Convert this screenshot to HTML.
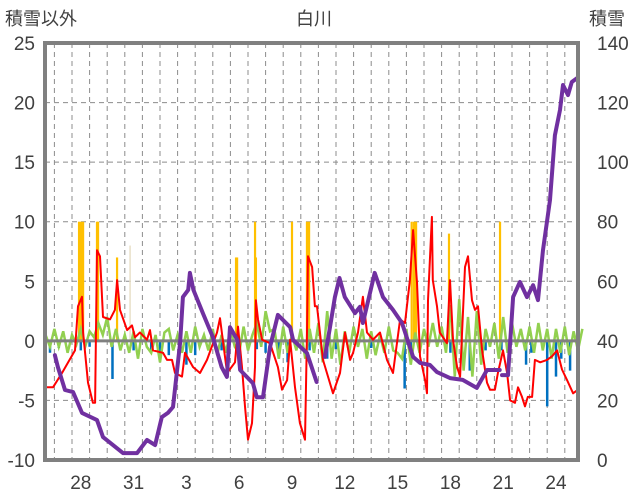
<!DOCTYPE html>
<html><head><meta charset="utf-8"><style>
html,body{margin:0;padding:0;background:#fff;}
svg{display:block;font-family:"Liberation Sans","Noto Sans CJK JP",sans-serif;}
</style></head><body>
<svg id="chart" width="636" height="501" viewBox="0 0 636 501" xmlns="http://www.w3.org/2000/svg">
<text x="314" y="25" font-size="18" fill="#404040" text-anchor="middle">白川</text>
<text x="5" y="25" font-size="18" fill="#404040">積雪以外</text>
<text x="589" y="25" font-size="18" fill="#404040">積雪</text>
<g id="grid"></g>
<g id="bars"></g>
<g id="lines"></g>
<g id="axes"></g>
</svg>
<script>
// ---- data ----
const leftTicks = [25,20,15,10,5,0,-5,-10];
const rightTicks = [140,120,100,80,60,40,20,0];
const xTickDays = [0,3,6,9,12,15,18,21,24,27];
const xTickLabels = ["28","31","3","6","9","12","15","18","21","24"];
const snowDays = [-0.97,-0.8,-0.4,0.06,0.57,1.42,1.76,2.9,3.7,4.26,4.72,5.1,5.45,5.74,6.14,6.3,6.6,6.7,6.9,7.44,8.0,8.5,8.8,8.98,9.4,9.55,10.28,10.5,10.85,11.25,11.7,12.4,12.56,13.35,13.9,null,14.37,14.66,14.94,15.2,15.5,16.08,16.36,16.53,17.2,17.67,18.24,18.75,19.38,19.77,20.34,20.74,21.48,22.2,23.0,23.58,24.3,null,24.43,24.77,25.06,25.45,25.85,26.2,26.48,26.76,27.16,27.44,27.73,27.9,28.18,28.4,28.7];
const snowVals = [35.2,31.2,23.5,22.8,15.8,13.4,7.7,2.3,2.3,6.7,5.0,14.4,15.8,17.8,39.3,54.7,57.1,62.8,57.1,49.3,41.3,31.2,27.9,44.6,40.3,30.2,25.8,21.1,21.1,37.9,48.7,44.6,40.3,35.9,26.2,null,34.6,44.6,54.7,61.1,54.7,49.3,51.4,46.0,62.8,54.7,50.4,46.0,34.6,32.6,31.9,29.5,27.5,26.9,24.2,30.2,30.2,null,28.5,28.5,54.7,59.8,54.7,58.7,53.7,70.5,87.3,109,117.5,125.9,122.5,126.9,128.2];
const redDays = [-1.53,-1.08,-0.57,0.17,0.34,0.57,0.63,0.91,1.19,1.31,1.42,1.59,1.76,2.16,2.44,2.56,2.73,3.13,3.41,3.58,3.86,4.26,4.43,4.6,5.17,5.4,5.68,5.85,6.25,6.42,6.88,7.27,7.67,8.24,8.41,8.81,9.26,9.43,9.66,9.83,10.0,10.23,10.4,10.45,10.57,10.8,11.25,11.7,11.93,12.22,12.39,12.67,12.95,13.24,13.35,13.41,13.64,13.8,13.92,14.26,14.83,15.23,15.51,15.8,15.97,16.25,16.53,16.76,17.1,17.5,17.9,18.24,18.64,18.92,19.2,19.38,19.6,19.77,20.06,20.17,20.23,20.45,20.5,20.74,20.9,21.3,21.48,21.65,21.88,22.05,22.33,22.5,22.73,22.9,23.07,23.3,23.58,23.75,24.03,24.2,24.49,24.72,24.89,25.17,25.34,25.57,25.74,25.9,26.14,26.3,26.6,26.99,27.27,27.56,27.84,28.13,28.47,28.75];
const redVals = [-3.9,-3.9,-2.7,-0.8,2.9,3.7,0.7,-3.5,-5.2,-5.2,7.6,7.1,2.0,1.8,2.6,5.1,2.6,0.9,1.3,0.3,0.7,0.1,0.9,-0.8,-1.0,-1.6,-1.6,-2.7,-3.0,-1.0,-2.2,-2.7,-1.6,0.7,1.9,-2.7,-1.8,1.2,-2.2,-5.5,-8.3,-6.9,-2.2,3.4,1.8,0.1,-0.2,-2.2,-4.1,-3.3,0.1,-3.9,-6.9,-8.3,0.7,7.1,6.2,2.9,2.9,-1.6,-4.4,-2.7,0.7,-1.6,-1.0,0.7,3.7,0.7,0.1,0.7,-1.6,-2.7,1.8,1.5,5.1,9.3,4.9,-1.3,-3.3,-4.4,3.4,10.4,5.1,2.9,0.7,-0.2,5.1,0.1,-2.2,-3.0,6.2,7.1,3.4,2.6,2.9,-0.8,-3.5,-4.1,-4.1,-2.7,-0.8,-2.7,-5.0,-5.2,-3.9,-4.7,-5.5,-4.7,-4.7,-1.6,-1.8,-1.6,-1.3,-0.8,-2.4,-3.3,-4.4,-4.1];
const greenStart = -1.5;
const greenVals = [0.5,-0.5,1,-0.5, 0.8,-1,0.5,-0.3, 1,-0.5,0.8,0.3, 1.5,0.5,2,-0.5, 1,-0.8,0.5,-1, 0.8,-1.5,1,-0.5, -1,0.5,-1.8,0.7, 1,-0.8,0.5,-1, 0.8,-1,1.2,-0.5, 0.5,-0.8,1,-1.2, 0.5,-1,1,-0.5, -1,1.2,-0.8,0.5, 1.5,-0.5,2.5,0.8, 1,-1.5,1.2,-1, 0.5,-0.8,1,-1.5, 1,-1,1.5,-1.8, 2.5,-1.5,1,-2, 0.8,-1,1.2,-0.5, 1,-1.5,0.8,-1.2, 0.5,-1,1.2,-0.8, -1,-1.5,1,-2, 0.7,-1,1,-0.5, 1.5,-0.5,1.2,-1, 3,-3,3.5,-2.5, 2,-3,2.5,-2, 1,-0.5,1.5,-1.5, 2,-1,1.5,-0.5, 1,-0.8,1.2,-1, 1.5,-0.8,1,-1.5, 1,-1,1.2,-1.2, 0.8,-0.8,1];
const yellowDays = [0.4,0.51,0.63,1.42,1.48,2.56,9.32,9.38,10.4,10.45,12.5,13.35,13.47,19.3,19.43,19.55,21.42,24.32];
const yellowVals = [10,10,10,10,10,7,7,7,10,7,10,10,10,10,10,10,9,10];
const paleDays = [3.3];
const paleVals = [8];
const blueDays = [-1.25,-0.75,0.5,1.0,2.3,3.5,4.5,5.0,5.5,6.5,7.0,8.5,9.5,10.5,11.0,11.75,12.25,13.5,14.5,15.0,17.0,18.9,19.25,21.5,22.6,23.5,24.4,25.8,26.1,27.0,27.5,27.8,28.3];
const blueVals = [-1,-0.6,-0.8,-0.5,-3.2,-0.8,-0.8,-1.5,-1.2,-2,-1.2,-0.8,-0.6,-0.7,-1,-1.5,-1.8,-0.8,-1.5,-0.7,-0.6,-4,-1.5,-1,-2.5,-0.8,-0.8,-2,-1,-5.5,-3,-1.5,-2.5];

// ---- scales ----
const L=45,R=578,T=43,B=460;
const D0=72, PXD=17.6;
const xs = d => D0 + d*PXD;
const yl = v => B - (v+10)*(B-T)/35;
const yr = v => B - v*(B-T)/140;
const NS='http://www.w3.org/2000/svg';
function mk(tag, parent){const e=document.createElementNS(NS,tag);parent.appendChild(e);return e;}
const grid=document.getElementById('grid'), bars=document.getElementById('bars'), lines=document.getElementById('lines'), axes=document.getElementById('axes');

// grid
for(let d=-1; xs(d)<R; d++){
  const l=mk('line',grid);
  
  
  l.setAttribute('x1',xs(d));l.setAttribute('x2',xs(d));l.setAttribute('y1',T);l.setAttribute('y2',B);
  l.setAttribute('stroke','#8c8c8c');l.setAttribute('stroke-width','1');l.setAttribute('stroke-dasharray','5,4');
}
leftTicks.forEach(v=>{
  if(v!==25 && v!==-10 && v!==0){
    const l=mk('line',grid);
    
    
    l.setAttribute('x1',L);l.setAttribute('x2',R);l.setAttribute('y1',yl(v));l.setAttribute('y2',yl(v));
    l.setAttribute('stroke','#8c8c8c');l.setAttribute('stroke-width','1');l.setAttribute('stroke-dasharray','5,4');
  }
  const t=mk('text',axes);
  
  
  t.setAttribute('x',35);t.setAttribute('y',yl(v)+7);t.setAttribute('text-anchor','end');
  t.setAttribute('font-size','19');t.setAttribute('fill','#404040');t.textContent=v;
});
rightTicks.forEach(v=>{
  const t=mk('text',axes);
  
  
  t.setAttribute('x',597);t.setAttribute('y',yr(v)+7);
  t.setAttribute('font-size','19');t.setAttribute('fill','#404040');t.textContent=v;
});
xTickDays.forEach((d,i)=>{
  if(i>=xTickLabels.length) return;
  const t=mk('text',axes);
  
  
  t.setAttribute('x',xs(d+0.5));t.setAttribute('y',489);t.setAttribute('text-anchor','middle');
  t.setAttribute('font-size','19');t.setAttribute('fill','#404040');t.textContent=xTickLabels[i];
});

// bars
function bar(d,v,color,w,name){
  const r=mk('rect',bars);
  
  
  const y0=yl(0), y1=yl(v);
  r.setAttribute('x',xs(d)-w/2);r.setAttribute('width',w);
  r.setAttribute('y',Math.min(y0,y1));r.setAttribute('height',Math.abs(y1-y0));
  r.setAttribute('fill',color);
}
yellowDays.forEach((d,i)=>bar(d,yellowVals[i],'#FFC000',2.2,'precip-bar'));
paleDays.forEach((d,i)=>bar(d,paleVals[i],'#e8e0c8',1.5,'precip-bar-pale'));
blueDays.forEach((d,i)=>bar(d,blueVals[i],'#0070C0',2.5,'negative-bar'));

// lines
function path(days,vals,ysc){
  let s='',pen=false;
  for(let i=0;i<days.length;i++){
    if(days[i]===null||vals[i]===null){pen=false;continue;}
    s+=(pen?'L':'M')+xs(days[i]).toFixed(1)+','+ysc(vals[i]).toFixed(1);pen=true;
  }
  return s;
}
const gDays=greenVals.map((v,i)=>greenStart+i*0.25);
const gp=mk('path',lines);


gp.setAttribute('d',path(gDays,greenVals,yl));gp.setAttribute('fill','none');gp.setAttribute('stroke','#92D050');gp.setAttribute('stroke-width','2.5');

const zl=mk('line',lines);


zl.setAttribute('x1',L);zl.setAttribute('x2',R);zl.setAttribute('y1',yl(0));zl.setAttribute('y2',yl(0));
zl.setAttribute('stroke','#808080');zl.setAttribute('stroke-width','3');

const rp=mk('path',lines);


rp.setAttribute('d',path(redDays,redVals,yl));rp.setAttribute('fill','none');rp.setAttribute('stroke','#FF0000');rp.setAttribute('stroke-width','2');rp.setAttribute('stroke-linejoin','round');

const pp=mk('path',lines);


pp.setAttribute('d',path(snowDays,snowVals,yr));pp.setAttribute('fill','none');pp.setAttribute('stroke','#7030A0');pp.setAttribute('stroke-width','4');pp.setAttribute('stroke-linejoin','round');pp.setAttribute('stroke-linecap','round');

const fr=mk('rect',axes);


fr.setAttribute('x',L);fr.setAttribute('y',T);fr.setAttribute('width',R-L);fr.setAttribute('height',B-T);
fr.setAttribute('fill','none');fr.setAttribute('stroke','#808080');fr.setAttribute('stroke-width','4');
</script>
</body></html>
